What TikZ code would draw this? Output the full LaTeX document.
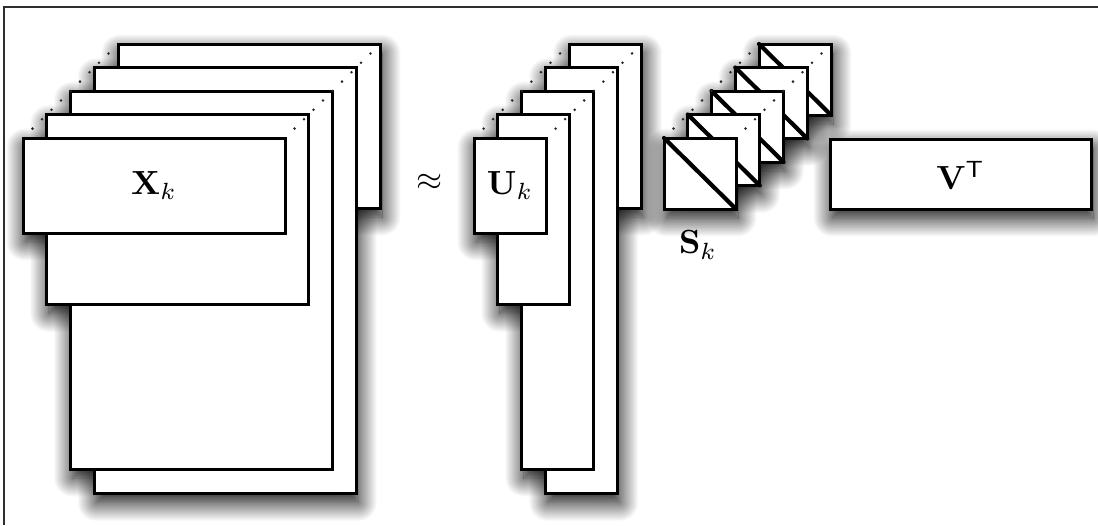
\documentclass[tikz,border=0pt]{standalone}
\usetikzlibrary{shadows.blur,calc}
\pgfdeclarelayer{background}
\pgfsetlayers{background,main}

\begin{document}
\begin{tikzpicture}[x=1pt,y=-1pt,
  sheet/.style={draw=black, fill=white, line width=3pt, inner sep=0pt,
    outer sep=0pt, anchor=north west},
  diag/.style={line width=4.2pt, line cap=round},
  dotmark/.style={fill=black!85},
  lbl/.style={scale=3.35, inner sep=0pt},
  frame/.style={draw=black!82, line width=2pt},
  soft/.style={blur shadow={shadow xshift=2pt, shadow yshift=-9pt,
    shadow blur radius=19pt, shadow blur steps=30, shadow opacity=100}}]
\useasboundingbox (0,0) rectangle (1098,525);

% frame (top and left edges only)
\draw[frame] (4,525) -- (4,7) -- (1098,7);

% stack of X slices, back to front
\foreach \i/\h in {4/164,3/426,2/378,1/190,0/95}
  \node[sheet, minimum width=262pt, minimum height={\h pt}]
    (x\i) at ({23+23.75*\i},{138-23.5*\i}) {};

% stack of U slices, back to front
\foreach \i/\h in {4/164,3/426,2/378,1/190,0/95}
  \node[sheet, minimum width=72pt, minimum height={\h pt}]
    (u\i) at ({474+23.9*\i},{138-23.5*\i}) {};

% stack of diagonal S slices, back to front
\foreach \i in {4,3,2,1,0} {
  \node[sheet, minimum width=72pt, minimum height=71pt]
    (s\i) at ({664+23.75*\i},{138-23.5*\i}) {};
  \draw[diag] (s\i.north west) -- (s\i.south east);
}

% V transpose
\node[sheet, minimum width=261pt, minimum height=70pt] (v) at (830,139) {};

% soft shadows, cast on the background only
\begin{pgfonlayer}{background}
  \foreach \n in {x0,x1,x2,x3,x4,u0,u1,u2,u3,u4,s0,s1,s2,s3,s4,v}
    \path[soft] (\n.north west) rectangle (\n.south east);
\end{pgfonlayer}

% dotted corner lines through each stack
\foreach \p in {x,u,s}
  \foreach \t in {0.1,0.2,...,0.95} {
    \fill[dotmark] ($(\p0.north west)!\t!(\p4.north west)$) circle (1.4pt);
    \fill[dotmark] ($(\p0.north east)!\t!(\p4.north east)$) circle (1.4pt);
  }

% labels
\node[lbl] (xk) at (x0.center) {$\mathbf{X}_k$};
\node[lbl] (uk) at (u0.center) {$\mathbf{U}_k$};
\node[lbl] (vt) at ([yshift=-1pt]v.center) {$\mathbf{V}^{\mathsf{T}}$};
\node[lbl] (ap) at (430,182) {$\approx$};
\node[lbl] (sk) at (698,245) {$\mathbf{S}_k$};
\end{tikzpicture}
\end{document}
